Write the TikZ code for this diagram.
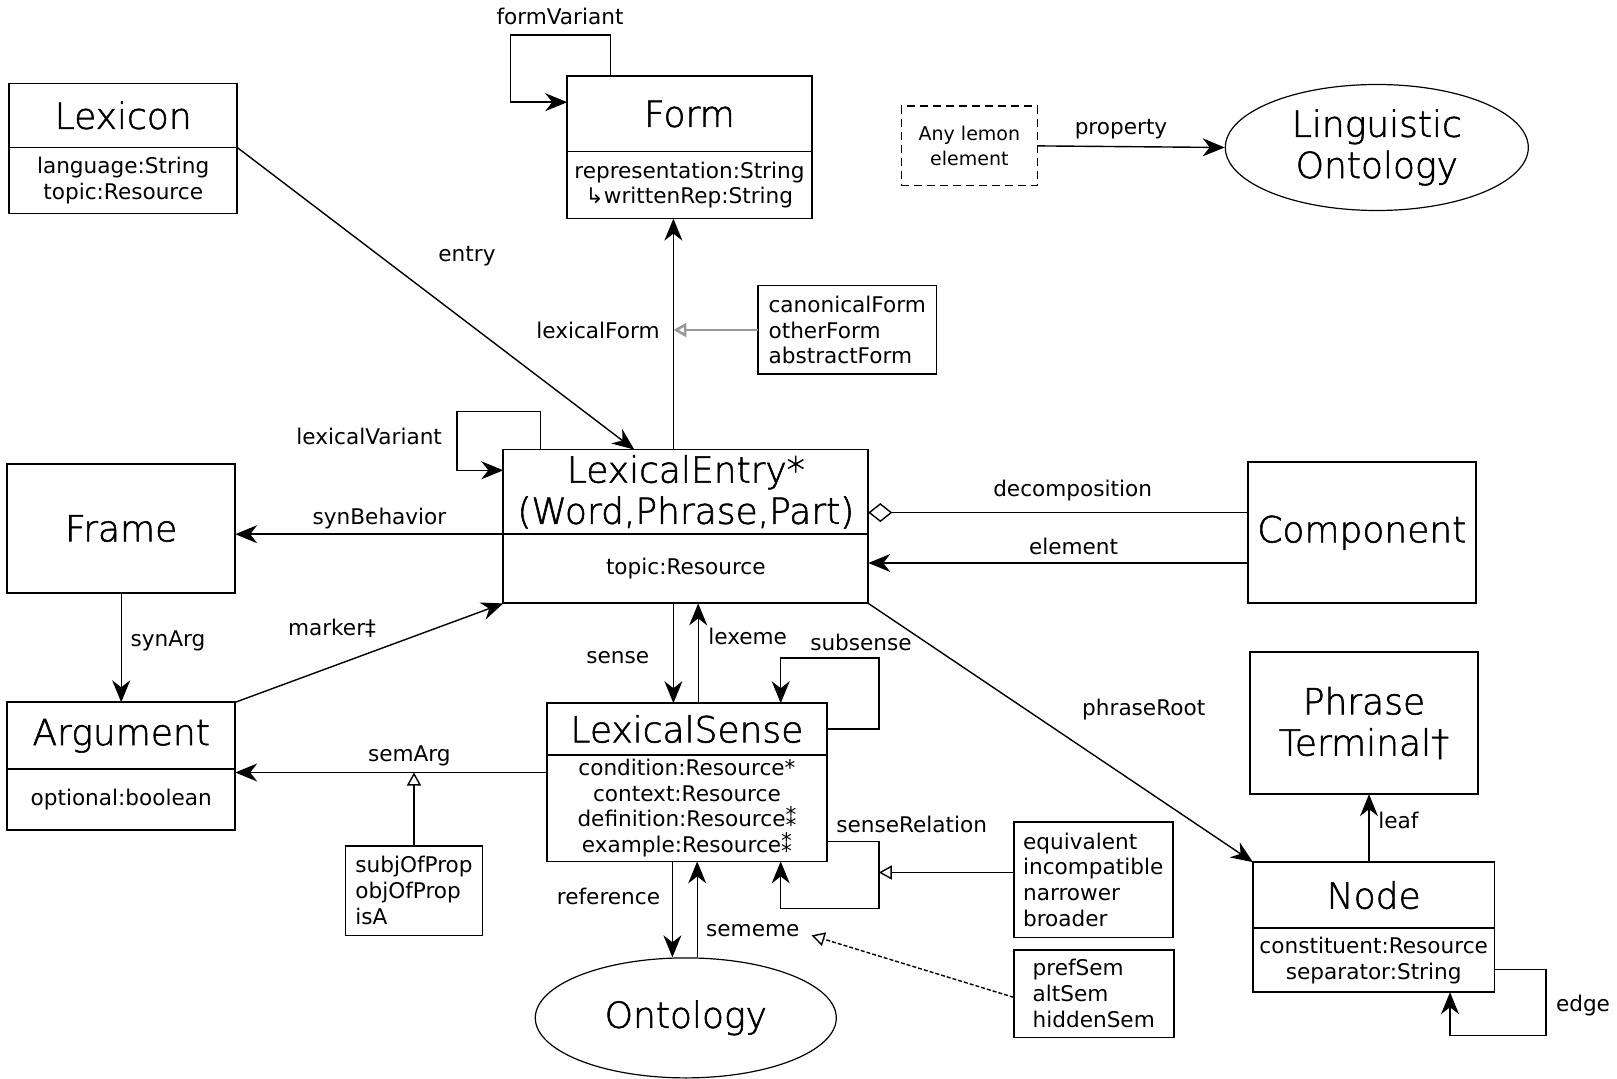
\documentclass[tikz,border=0pt]{standalone}
\usepackage{fontspec}
\setmainfont{DejaVu Sans}
\newfontfamily\titulofont[FakeBold=1.6]{DejaVu Sans ExtraLight}
\usetikzlibrary{arrows.meta,positioning,calc,shapes.geometric}
\tikzset{
  every node/.style = {font=\fontsize{10.8}{12.9}\selectfont},
  titulo/.style     = {draw, line width=0.9pt, outer sep=0pt, inner sep=2pt,
                       align=center, font=\titulofont\fontsize{18}{20.6}\selectfont},
  atributos/.style  = {draw, line width=0.9pt, outer sep=0pt, inner sep=2pt,
                       align=center},
  lista/.style      = {draw, line width=0.9pt, outer sep=0pt, inner sep=2pt,
                       align=left},
  elipse/.style     = {draw, ellipse, line width=0.6pt, inner sep=0pt,
                       align=center, font=\titulofont\fontsize{18}{20.6}\selectfont},
  flecha/.style     = {-{Stealth[length=11pt,width=9pt,inset=3.5pt]}, line width=0.7pt},
  rombo/.style      = {-{Diamond[open,length=12pt,width=9.5pt]}, line width=0.7pt},
  subprop/.style    = {-{Triangle[open,length=6.5pt,width=7pt]}, line width=0.7pt},
  subgris/.style    = {subprop, draw=black!40, line width=1.3pt},
  subpunto/.style   = {subprop, dash pattern=on 2pt off 1pt},
  rot/.style        = {inner sep=1pt},
}
\begin{document}
\begin{tikzpicture}[x=0.5pt,y=-0.5pt]
\useasboundingbox (0,0) rectangle (1617,1079);

% clases
\node[titulo, minimum width=114pt, minimum height=32pt] (lexicon) at (123.2,115.5) {Lexicon};
\node[atributos, minimum width=114pt, minimum height=33pt, below=0pt of lexicon] (lexiconA) {language:String\\topic:Resource};

\node[titulo, minimum width=122.2pt, minimum height=37.6pt] (form) at (689.4,114) {Form};
\node[atributos, minimum width=122.2pt, minimum height=33.5pt, below=0pt of form] (formA) {representation:String\\↳writtenRep:String};

\node[titulo, minimum width=182.5pt, minimum height=42.3pt] (entry) at (685.8,491.9) {LexicalEntry*\\(Word,Phrase,Part)};
\node[atributos, minimum width=182.5pt, minimum height=34.6pt, below=0pt of entry] (entryA) {topic:Resource};

\node[titulo, minimum width=114pt, minimum height=64.5pt] (frame) at (121.2,528.5) {Frame};

\node[titulo, minimum width=114pt, minimum height=33.5pt] (argumento) at (121.2,735.8) {Argument};
\node[atributos, minimum width=114pt, minimum height=30.5pt, below=0pt of argumento] (argumentoA) {optional:boolean};

\node[titulo, minimum width=114pt, minimum height=70.7pt] (component) at (1361.8,532.7) {Component};

\node[titulo, minimum width=140.3pt, minimum height=25.8pt] (sentido) at (686.9,729) {LexicalSense};
\node[atributos, minimum width=140.3pt, minimum height=53.3pt, below=0pt of sentido] (sentidoA) {condition:Resource*\\context:Resource\\definition:Resource⁑\\example:Resource⁑};

\node[titulo, minimum width=114pt, minimum height=71.2pt] (frase) at (1364,723) {Phrase\\Terminal†};

\node[titulo, minimum width=120.7pt, minimum height=33pt] (nodo) at (1373.7,895.2) {Node};
\node[atributos, minimum width=120.7pt, minimum height=32pt, below=0pt of nodo] (nodoA) {constituent:Resource\\separator:String};

% elipses y cajas sueltas
\node[elipse, minimum width=151.5pt, minimum height=63pt] (lingOnt) at (1376.8,147.5) {Linguistic\\Ontology};
\node[elipse, minimum width=150.5pt, minimum height=60pt] (ontologia) at (685.8,1017.9) {Ontology};
\node[draw, dash pattern=on 4pt off 2.5pt, line width=0.8pt, minimum width=68pt, minimum height=39.7pt,
      align=center, font=\fontsize{9.5}{12.9}\selectfont] (anyLemon) at (969.4,145.9) {Any lemon\\element};

\node[lista, minimum width=89.2pt, minimum height=44.4pt] (canon) at (847.2,330) {canonicalForm\\otherForm\\abstractForm};
\node[lista, minimum width=68.5pt, minimum height=44.9pt] (subj) at (414,890.5) {subjOfProp\\objOfProp\\isA};
\node[lista, minimum width=79.4pt, minimum height=57.8pt] (equiv) at (1093.2,879.7) {equivalent\\incompatible\\narrower\\broader};
\node[lista, minimum width=80pt, minimum height=43.9pt] (pref) at (1093.7,993.6) {prefSem\\altSem\\hiddenSem};

% conectores
\draw[flecha] ($(form.north west)+(43.3,0)$) |- ++(-100,-41.2) |- ($(form.north west)+(0,25.8)$);
\draw[flecha] (anyLemon.east) -- (lingOnt.west);
\draw[flecha] (lexiconA.north east) -- ($(entry.north west)+(131,0)$);
\draw[flecha] ($(entry.north)+(-12.4,0)$) coordinate (lf) -- (lf |- formA.south);
\draw[subgris] (canon.west) -- (canon.west -| lf);
\draw[flecha] ($(entry.north west)+(37.1,0)$) |- ++(-83.5,-38.1) |- ($(entry.north west)+(0,20.7)$);
\draw[flecha] (entry.south west) -- (entry.south west -| frame.east);
\draw[flecha] (frame.south) -- (argumento.north);
\draw[flecha] (argumento.north east) -- (entryA.south west);
\draw[rombo] ($(component.west)+(0,-20.1)$) coordinate (cd) -- (cd -| entry.east);
\draw[flecha] ($(component.west)+(0,30.3)$) coordinate (ce) -- (ce -| entryA.east);
\draw[flecha] ($(entryA.south)+(-12.4,0)$) coordinate (se) -- (se |- sentido.north);
\draw[flecha] ($(sentido.north)+(11.3,0)$) coordinate (lx) -- (lx |- entryA.south);
\draw[flecha] (sentido.east) -| ++(51.6,-71) -| ($(sentido.north west)+(234.1,0)$);
\draw[flecha] ($(sentidoA.west)+(0,-35.6)$) coordinate (sa) -- (sa -| argumentoA.east);
\draw[subprop] (subj.north) -- (subj.north |- sa);
\draw[flecha] ($(sentidoA.south)+(-14.5,0)$) coordinate (rf) -- (rf |- ontologia.north);
\draw[flecha] ($(ontologia.north)+(11.4,0)$) coordinate (sm) -- (sm |- sentidoA.south);
\coordinate (psem) at (811.6,935.4);
\draw[subpunto] ($(pref.west)+(0,3.7)$) -- (psem);
\coordinate (srx) at ($(sentidoA.east)+(51.6,0)$);
\draw[flecha] ($(sentidoA.east)+(0,33.5)$) -| ++(51.6,67.1) -| ($(sentidoA.south west)+(234.1,0)$);
\draw[subprop] ($(equiv.west)+(0,-7.2)$) coordinate (eq) -- (eq -| srx);
\draw[flecha] (entryA.south east) -- (nodo.north west);
\draw[flecha] ($(nodo.north)+(-4.7,0)$) coordinate (lv) -- (lv |- frase.south);
\draw[flecha] ($(nodoA.east)+(0,9.4)$) -| ++(51.5,66) -| ($(nodoA.south west)+(197,0)$);

% rotulos
\node[rot] (eFormVariant) at (560,16.5) {formVariant};
\node[rot] (eProperty) at (1121,129) {property};
\node[rot] (eEntry) at (467,255.8) {entry};
\node[rot] (eLexicalForm) at (598,330) {lexicalForm};
\node[rot] (eLexicalVariant) at (369.2,436.2) {lexicalVariant};
\node[rot] (eSynBehavior) at (379.5,518.7) {synBehavior};
\node[rot] (eSynArg) at (168,640.4) {synArg};
\node[rot] (eMarker) at (332,628) {marker‡};
\node[rot] (eDecomposition) at (1072.6,491) {decomposition};
\node[rot] (eElement) at (1073.6,546.6) {element};
\node[rot] (eSense) at (617.7,658) {sense};
\node[rot] (eLexeme) at (747.7,636.3) {lexeme};
\node[rot] (eSubsense) at (861,642.5) {subsense};
\node[rot] (eSemArg) at (409.4,756) {semArg};
\node[rot] (eReference) at (608.5,896.2) {reference};
\node[rot] (eSememe) at (752.8,930.2) {sememe};
\node[rot] (eSenseRelation) at (911.7,824) {senseRelation};
\node[rot] (ePhraseRoot) at (1143.7,709.5) {phraseRoot};
\node[rot] (eLeaf) at (1398.4,820) {leaf};
\node[rot] (eEdge) at (1583,1005.5) {edge};

\end{tikzpicture}
\end{document}
